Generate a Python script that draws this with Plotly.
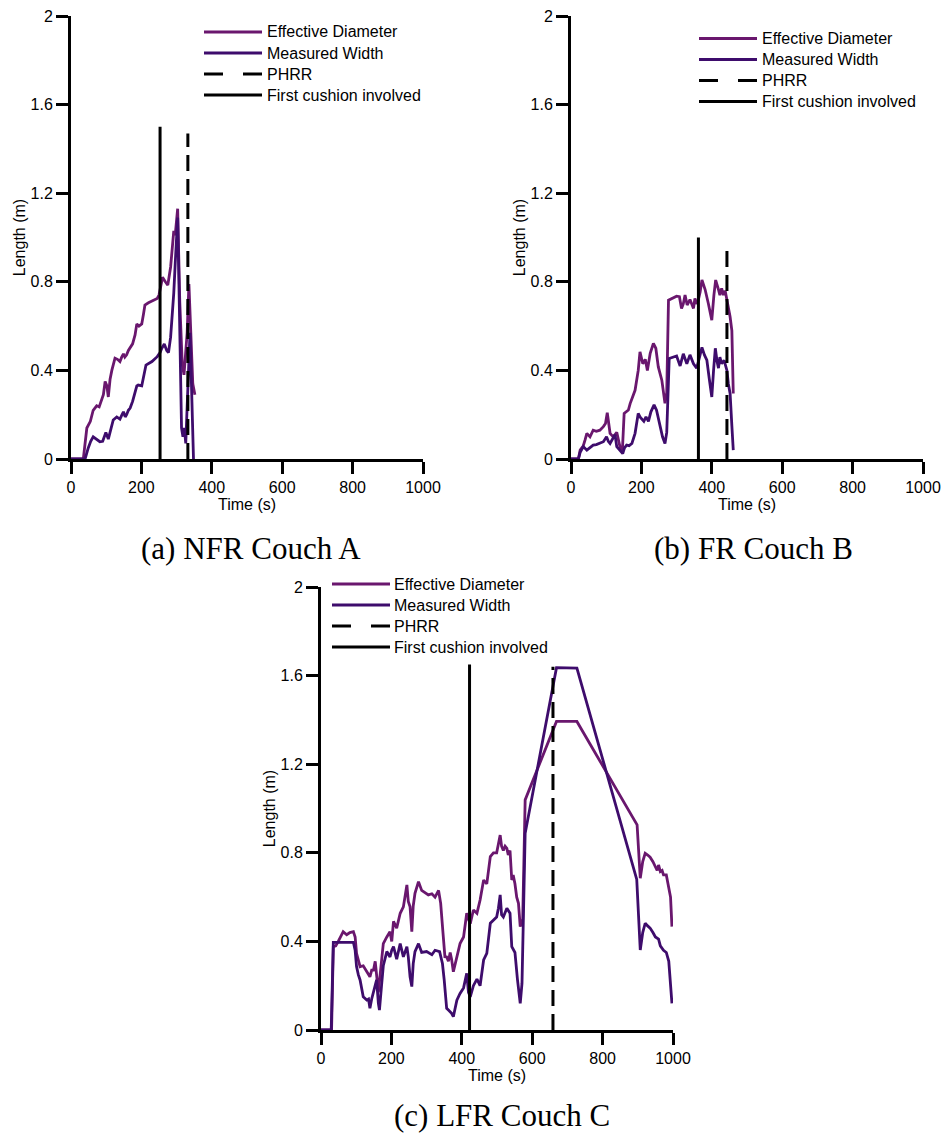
import plotly.graph_objects as go

# ---------------- data ----------------
# (time s, length m) samples for each couch test
A_EFFECTIVE = [(0, 0), (35, 0), (45, 0.14), (55, 0.17), (63, 0.22), (73, 0.24), (80, 0.235), (87, 0.27),
               (92, 0.29), (97, 0.35), (102, 0.33), (106, 0.28), (111, 0.36), (116, 0.40), (125, 0.455),
               (132, 0.45), (139, 0.44), (144, 0.46), (149, 0.475), (153, 0.46), (158, 0.47), (163, 0.49),
               (168, 0.505), (175, 0.52), (182, 0.56), (187, 0.61), (193, 0.60), (201, 0.61), (206, 0.655),
               (210, 0.695), (220, 0.705), (232, 0.715), (245, 0.725), (250, 0.74), (260, 0.82), (268, 0.80),
               (275, 0.785), (283, 0.867), (292, 1.03), (296, 1.01), (303, 1.13), (309, 0.71), (316, 0.43),
               (321, 0.38), (325, 0.49), (330, 0.57), (335, 0.79), (340, 0.57), (346, 0.34), (352, 0.29)]
A_WIDTH = [(0, 0), (40, 0), (49, 0.05), (56, 0.08), (63, 0.10), (72, 0.09), (82, 0.078), (90, 0.08),
           (95, 0.10), (99, 0.12), (106, 0.09), (113, 0.14), (120, 0.176), (130, 0.19), (139, 0.18),
           (145, 0.20), (149, 0.213), (154, 0.19), (158, 0.20), (163, 0.22), (168, 0.23), (175, 0.26),
           (182, 0.296), (187, 0.33), (191, 0.334), (201, 0.33), (213, 0.424), (230, 0.44), (245, 0.462),
           (253, 0.48), (258, 0.50), (265, 0.519), (272, 0.49), (277, 0.48), (283, 0.55), (288, 0.64),
           (292, 0.75), (296, 0.88), (300, 1.05), (303, 1.09), (306, 0.85), (310, 0.45), (314, 0.14),
           (318, 0.10), (322, 0.14), (326, 0.07), (330, 0.25), (334, 0.45), (338, 0.57), (342, 0.35),
           (345, 0.12), (348, 0.0)]

B_EFFECTIVE = [(0, 0), (21, 0), (26, 0.04), (35, 0.06), (40, 0.086), (45, 0.116), (54, 0.10), (63, 0.13),
               (72, 0.125), (82, 0.13), (92, 0.146), (98, 0.16), (103, 0.209), (111, 0.116), (120, 0.10),
               (130, 0.12), (139, 0.056), (146, 0.04), (151, 0.206), (157, 0.215), (163, 0.221), (168, 0.25),
               (173, 0.27), (182, 0.31), (191, 0.40), (196, 0.484), (204, 0.43), (211, 0.45), (217, 0.40),
               (225, 0.477), (234, 0.522), (241, 0.50), (248, 0.416), (258, 0.356), (267, 0.251), (272, 0.30),
               (277, 0.717), (291, 0.73), (300, 0.735), (308, 0.733), (314, 0.68), (319, 0.70), (324, 0.74),
               (330, 0.695), (338, 0.72), (343, 0.70), (348, 0.68), (352, 0.725), (358, 0.70), (362, 0.72),
               (367, 0.755), (372, 0.808), (381, 0.765), (390, 0.703), (395, 0.66), (400, 0.627), (406, 0.74),
               (411, 0.808), (419, 0.765), (423, 0.74), (428, 0.77), (433, 0.74), (438, 0.76), (443, 0.717),
               (447, 0.68), (452, 0.642), (457, 0.58), (461, 0.296)]
B_WIDTH = [(0, 0), (21, 0), (26, 0.03), (35, 0.056), (45, 0.04), (54, 0.05), (63, 0.063), (72, 0.065),
           (82, 0.07), (92, 0.078), (101, 0.10), (106, 0.08), (111, 0.07), (120, 0.10), (125, 0.11),
           (130, 0.056), (139, 0.04), (147, 0.025), (152, 0.05), (158, 0.063), (165, 0.06), (173, 0.07),
           (182, 0.116), (191, 0.206), (196, 0.19), (201, 0.18), (207, 0.17), (213, 0.19), (220, 0.17),
           (227, 0.213), (236, 0.244), (243, 0.22), (253, 0.145), (260, 0.10), (267, 0.07), (272, 0.12),
           (279, 0.454), (290, 0.46), (300, 0.465), (310, 0.42), (319, 0.475), (329, 0.43), (338, 0.47),
           (348, 0.43), (357, 0.41), (362, 0.44), (367, 0.48), (372, 0.504), (379, 0.47), (386, 0.446),
           (393, 0.36), (400, 0.28), (405, 0.40), (410, 0.50), (415, 0.44), (419, 0.41), (423, 0.46),
           (428, 0.43), (435, 0.445), (443, 0.40), (447, 0.34), (452, 0.296), (457, 0.15), (461, 0.04)]

C_EFFECTIVE = [(0, 0), (25, 0), (30, 0.0), (35, 0.376), (42, 0.38), (49, 0.40), (56, 0.42), (63, 0.444),
               (73, 0.43), (82, 0.44), (92, 0.444), (97, 0.42), (101, 0.346), (111, 0.286), (120, 0.29),
               (130, 0.26), (139, 0.24), (144, 0.27), (149, 0.27), (154, 0.31), (158, 0.25), (163, 0.17),
               (168, 0.25), (172, 0.33), (177, 0.39), (187, 0.42), (196, 0.444), (201, 0.40), (206, 0.49),
               (215, 0.46), (225, 0.527), (234, 0.556), (239, 0.60), (244, 0.655), (248, 0.58), (253, 0.556),
               (258, 0.444), (262, 0.56), (267, 0.617), (277, 0.67), (286, 0.63), (296, 0.62), (305, 0.61),
               (315, 0.615), (324, 0.60), (334, 0.63), (340, 0.572), (346, 0.45), (352, 0.331), (357, 0.33),
               (362, 0.31), (367, 0.35), (371, 0.32), (376, 0.263), (381, 0.30), (386, 0.33), (395, 0.39),
               (405, 0.42), (414, 0.527), (419, 0.50), (424, 0.48), (433, 0.542), (443, 0.527), (452, 0.587),
               (462, 0.677), (471, 0.66), (481, 0.783), (490, 0.80), (499, 0.80), (504, 0.84), (509, 0.88),
               (513, 0.83), (518, 0.81), (523, 0.83), (528, 0.82), (532, 0.79), (537, 0.81), (542, 0.677),
               (546, 0.70), (551, 0.66), (556, 0.60), (561, 0.572), (566, 0.467), (573, 0.50), (580, 1.039),
               (669, 1.393), (727, 1.393), (898, 0.926), (907, 0.685), (914, 0.76), (921, 0.798), (928, 0.79),
               (935, 0.78), (943, 0.76), (950, 0.74), (955, 0.72), (959, 0.745), (964, 0.715), (969, 0.72),
               (973, 0.70), (981, 0.70), (988, 0.64), (993, 0.60), (997, 0.467)]
C_WIDTH = [(0, 0), (25, 0), (29, 0.0), (35, 0.396), (92, 0.396), (97, 0.36), (101, 0.286), (106, 0.25),
           (111, 0.226), (120, 0.15), (130, 0.135), (135, 0.14), (139, 0.098), (144, 0.14), (149, 0.176),
           (154, 0.20), (158, 0.226), (163, 0.12), (166, 0.09), (172, 0.20), (177, 0.29), (187, 0.354),
           (196, 0.33), (201, 0.36), (206, 0.376), (215, 0.32), (225, 0.39), (234, 0.33), (244, 0.376),
           (248, 0.33), (253, 0.24), (258, 0.196), (262, 0.30), (267, 0.354), (277, 0.39), (286, 0.35),
           (300, 0.354), (315, 0.34), (324, 0.36), (337, 0.354), (345, 0.30), (350, 0.226), (357, 0.098),
           (362, 0.09), (371, 0.075), (376, 0.06), (381, 0.10), (386, 0.135), (395, 0.165), (405, 0.19),
           (414, 0.256), (419, 0.17), (424, 0.15), (433, 0.20), (443, 0.23), (452, 0.20), (462, 0.316),
           (471, 0.346), (481, 0.482), (490, 0.497), (499, 0.51), (504, 0.55), (509, 0.61), (513, 0.52),
           (518, 0.51), (528, 0.55), (537, 0.527), (542, 0.376), (551, 0.35), (558, 0.23), (566, 0.12),
           (571, 0.21), (580, 0.888), (669, 1.636), (727, 1.634), (897, 0.68), (907, 0.361), (914, 0.44),
           (921, 0.482), (928, 0.47), (935, 0.46), (943, 0.44), (950, 0.42), (959, 0.41), (964, 0.38),
           (973, 0.36), (981, 0.35), (988, 0.31), (993, 0.20), (997, 0.12)]

# event markers: (time s, drawn height m)
A_PHRR = (332, 1.47)
A_CUSHION = (253, 1.50)
B_PHRR = (443, 0.95)
B_CUSHION = (362, 1.00)
C_PHRR = (659, 1.64)
C_CUSHION = (422, 1.65)

SERIES_NAMES = ["Effective Diameter", "Measured Width", "PHRR", "First cushion involved"]
SUBTITLES = ["(a) NFR Couch A", "(b) FR Couch B", "(c) LFR Couch C"]
X_TICKS = [0, 200, 400, 600, 800, 1000]
Y_TICKS = [0, 0.4, 0.8, 1.2, 1.6, 2]
Y_TICK_TEXT = ["0", "0.4", "0.8", "1.2", "1.6", "2"]

# ---------------- styling ----------------
W, H = 943, 1133
ED_COLOR = "#6a176e"
MW_COLOR = "#3e0c6c"
SANS = "Liberation Sans"
SERIF = "Liberation Serif"
FS = 16
LW = 2.8
PHRR_DASH = "16px,8px"

# legend key styles, in the same order as SERIES_NAMES
KEY_STYLES = [dict(color=ED_COLOR, width=LW), dict(color=MW_COLOR, width=LW),
              dict(color="black", width=3, dash="19px,20px"), dict(color="black", width=3)]


def fx(p):
    return p / W


def fy(p):
    return 1 - p / H


# axis box (pixels) and legend anchor (key start x, first row y, text x)
panels = [
    dict(ed=A_EFFECTIVE, mw=A_WIDTH, phrr=A_PHRR, cush=A_CUSHION,
         xd=(71, 423), yd=(459, 16), key=(204, 32, 265)),
    dict(ed=B_EFFECTIVE, mw=B_WIDTH, phrr=B_PHRR, cush=B_CUSHION,
         xd=(571, 923), yd=(459, 16), key=(699, 38.5, 760)),
    dict(ed=C_EFFECTIVE, mw=C_WIDTH, phrr=C_PHRR, cush=C_CUSHION,
         xd=(321, 673), yd=(1030, 587), key=(332, 584, 392)),
]
ROW_STEP = 21
KEY_LEN = 58

fig = go.Figure()
layout = dict(width=W, height=H, margin=dict(l=0, r=0, t=0, b=0),
              paper_bgcolor="white", plot_bgcolor="white", showlegend=False,
              font=dict(family=SANS, size=FS, color="black"), annotations=[], shapes=[])

for i, p in enumerate(panels):
    n = "" if i == 0 else str(i + 1)
    xa, ya = "x" + n, "y" + n
    ed_t, ed_v = zip(*p["ed"])
    mw_t, mw_v = zip(*p["mw"])
    fig.add_trace(go.Scatter(x=ed_t, y=ed_v, mode="lines", name=SERIES_NAMES[0],
                             line=dict(color=ED_COLOR, width=LW), xaxis=xa, yaxis=ya))
    fig.add_trace(go.Scatter(x=mw_t, y=mw_v, mode="lines", name=SERIES_NAMES[1],
                             line=dict(color=MW_COLOR, width=LW), xaxis=xa, yaxis=ya))
    fig.add_trace(go.Scatter(x=[p["phrr"][0]] * 2, y=[0, p["phrr"][1]], mode="lines",
                             name=SERIES_NAMES[2], line=dict(color="black", width=3, dash=PHRR_DASH),
                             xaxis=xa, yaxis=ya))
    fig.add_trace(go.Scatter(x=[p["cush"][0]] * 2, y=[0, p["cush"][1]], mode="lines",
                             name=SERIES_NAMES[3], line=dict(color="black", width=3),
                             xaxis=xa, yaxis=ya))

    common = dict(showline=True, linewidth=3, linecolor="black", ticks="outside", ticklen=12,
                  tickwidth=3, tickcolor="black", showgrid=False, zeroline=False,
                  tickfont=dict(family=SANS, size=FS, color="black"), automargin=False)
    layout["xaxis" + n] = dict(common, domain=[fx(p["xd"][0]), fx(p["xd"][1])], range=[0, 1000],
                               tickvals=X_TICKS, anchor=ya,
                               title=dict(text="Time (s)", standoff=2,
                                          font=dict(family=SANS, size=FS, color="black")))
    layout["yaxis" + n] = dict(common, domain=[fy(p["yd"][0]), fy(p["yd"][1])], range=[0, 2],
                               tickvals=Y_TICKS, ticktext=Y_TICK_TEXT, anchor=xa,
                               title=dict(text="Length (m)", standoff=1,
                                          font=dict(family=SANS, size=FS, color="black")))

    # legend box drawn as keys + labels
    kx, ky, tx = p["key"]
    for r, (label, style) in enumerate(zip(SERIES_NAMES, KEY_STYLES)):
        yy = fy(ky + r * ROW_STEP)
        layout["shapes"].append(dict(type="line", xref="paper", yref="paper",
                                     x0=fx(kx), x1=fx(kx + KEY_LEN), y0=yy, y1=yy, line=style))
        layout["annotations"].append(dict(text=label, x=fx(tx), y=yy, xref="paper", yref="paper",
                                          xanchor="left", yanchor="middle", showarrow=False,
                                          font=dict(family=SANS, size=FS, color="black")))

sub_pos = [(251, 548), (753, 548), (502, 1115)]
for text, (sx, sy) in zip(SUBTITLES, sub_pos):
    layout["annotations"].append(dict(text=text, x=fx(sx), y=fy(sy), xref="paper", yref="paper",
                                      xanchor="center", yanchor="middle", showarrow=False,
                                      font=dict(family=SERIF, size=31, color="black")))

fig.update_layout(**layout)
fig.write_html("out.html")
